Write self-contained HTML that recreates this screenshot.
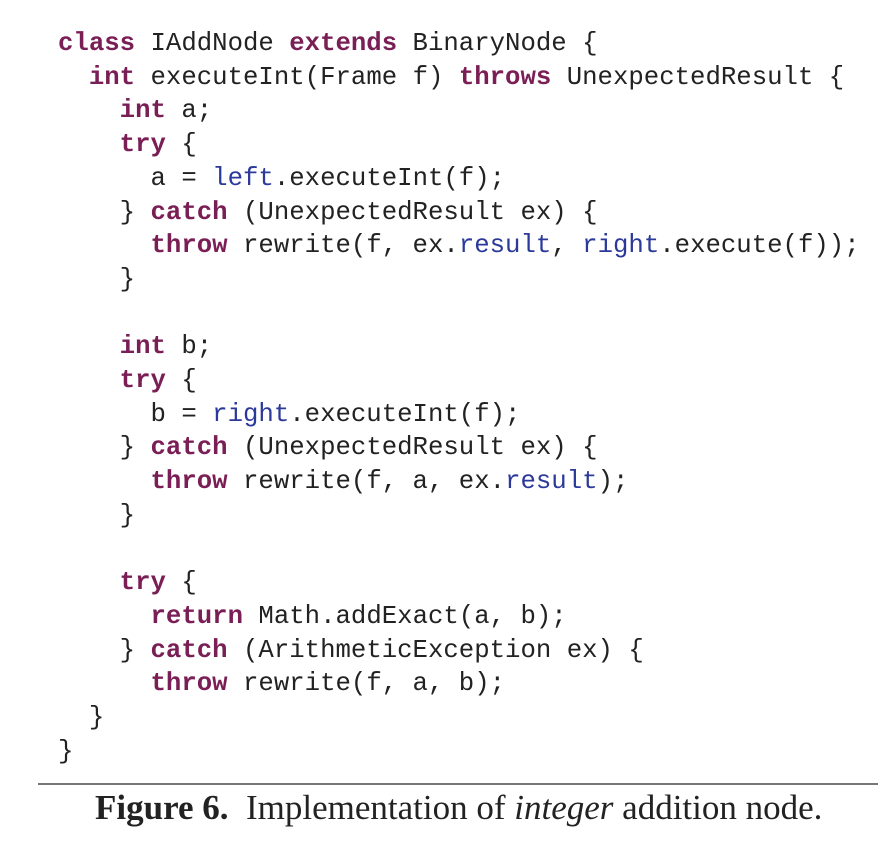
<!DOCTYPE html>
<html><head><meta charset="utf-8"><style>
html,body{margin:0;padding:0;background:#fff;width:894px;height:854px;overflow:hidden;position:relative}
pre{position:absolute;left:58px;top:27px;margin:0;font-family:"Liberation Mono",monospace;font-size:25.7px;line-height:33.7px;color:#222}
.k{color:#7a1f55;font-weight:bold}
.b{color:#2b3a9a}
.rule{position:absolute;left:38px;top:783px;width:840px;height:2px;background:#777}
.cap{position:absolute;left:95px;top:788px;font-family:"Liberation Serif",serif;font-size:35px;line-height:40px;color:#222;white-space:nowrap}
</style></head><body>
<pre><span class="k">class</span> IAddNode <span class="k">extends</span> BinaryNode {
  <span class="k">int</span> executeInt(Frame f) <span class="k">throws</span> UnexpectedResult {
    <span class="k">int</span> a;
    <span class="k">try</span> {
      a = <span class="b">left</span>.executeInt(f);
    } <span class="k">catch</span> (UnexpectedResult ex) {
      <span class="k">throw</span> rewrite(f, ex.<span class="b">result</span>, <span class="b">right</span>.execute(f));
    }

    <span class="k">int</span> b;
    <span class="k">try</span> {
      b = <span class="b">right</span>.executeInt(f);
    } <span class="k">catch</span> (UnexpectedResult ex) {
      <span class="k">throw</span> rewrite(f, a, ex.<span class="b">result</span>);
    }

    <span class="k">try</span> {
      <span class="k">return</span> Math.addExact(a, b);
    } <span class="k">catch</span> (ArithmeticException ex) {
      <span class="k">throw</span> rewrite(f, a, b);
  }
}</pre>
<div class="rule"></div>
<div class="cap"><b>Figure 6.</b>&nbsp; Implementation of <i>integer</i> addition node.</div>
</body></html>
